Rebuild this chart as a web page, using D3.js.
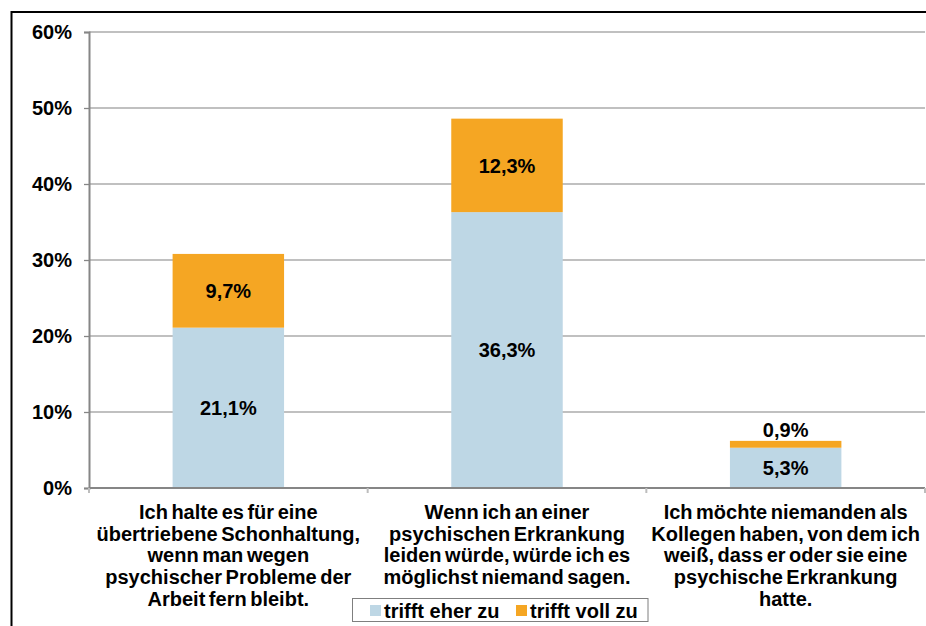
<!DOCTYPE html>
<html>
<head>
<meta charset="utf-8">
<script src="https://cdn.jsdelivr.net/npm/d3@7"></script>
<style>
  html, body { margin: 0; padding: 0; background: #fff; }
  svg { display: block; font-family: "Liberation Sans", Arial, sans-serif; font-weight: bold; }
</style>
</head>
<body>
<svg id="chart" width="926" height="626"></svg>
<script>
// Survey statements (wrapped as they appear below the axis)
const categories = ["s1", "s2", "s3"];
const categoryLines = [
  ["Ich halte es für eine", "übertriebene Schonhaltung,", "wenn man wegen", "psychischer Probleme der", "Arbeit fern bleibt."],
  ["Wenn ich an einer", "psychischen Erkrankung", "leiden würde, würde ich es", "möglichst niemand sagen."],
  ["Ich möchte niemanden als", "Kollegen haben, von dem ich", "weiß, dass er oder sie eine", "psychische Erkrankung", "hatte."]
];
const seriesNames = ["trifft eher zu", "trifft voll zu"];
const eherZu = [21.1, 36.3, 5.3];
const vollZu = [9.7, 12.3, 0.9];
const yTicks = [0, 10, 20, 30, 40, 50, 60];
const colors = ["#BED7E5", "#F5A623"];

const fmt = v => d3.format(".1f")(v).replace(".", ",") + "%";

const svg = d3.select("#chart");

// outer frame
svg.append("rect")
  .attr("x", 11.5).attr("y", 12).attr("width", 930).attr("height", 640)
  .attr("fill", "none").attr("stroke", "#000").attr("stroke-width", 2);

const plotLeft = 89, plotRight = 925, plotTop = 32, plotBottom = 488;

const x = d3.scaleBand().domain(categories).range([plotLeft, plotRight])
  .paddingInner(0.6).paddingOuter(0.3);
const y = d3.scaleLinear().domain([0, 60]).range([plotBottom, plotTop]);

// horizontal gridlines
svg.append("g").selectAll("line").data(yTicks.filter(t => t > 0)).join("line")
  .attr("x1", plotLeft).attr("x2", plotRight)
  .attr("y1", d => y(d)).attr("y2", d => y(d))
  .attr("stroke", "#ABABAB").attr("stroke-width", 1.3);

// y axis
const yAxis = svg.append("g").attr("transform", `translate(${plotLeft},0)`)
  .call(d3.axisLeft(y).tickValues(yTicks).tickSize(5).tickPadding(12).tickFormat(d => d + "%"));
yAxis.select(".domain").attr("stroke", "#868686").attr("stroke-width", 2);
yAxis.selectAll(".tick line").attr("stroke", "#868686").attr("stroke-width", 1.3);
yAxis.selectAll(".tick text")
  .attr("fill", "#000").attr("font-size", 20).attr("font-weight", "bold")
  .attr("font-family", "Liberation Sans, Arial, sans-serif");

// stacked data
const rows = categories.map((c, i) => ({ cat: c, eher: eherZu[i], voll: vollZu[i] }));
const stack = d3.stack().keys(["eher", "voll"])(rows);

const gBars = svg.append("g");
stack.forEach((layer, li) => {
  gBars.append("g").selectAll("rect").data(layer).join("rect")
    .attr("x", d => x(d.data.cat))
    .attr("width", x.bandwidth())
    .attr("y", d => y(d[1]))
    .attr("height", d => y(d[0]) - y(d[1]))
    .attr("fill", colors[li]);
});

// x axis baseline and category separators
const step = x.step();
svg.append("line")
  .attr("x1", plotLeft).attr("x2", plotRight).attr("y1", y(0)).attr("y2", y(0))
  .attr("stroke", "#868686").attr("stroke-width", 2);
const bounds = [plotLeft].concat(categories.map(c => x(c) + x.bandwidth() / 2 + step / 2));
svg.append("g").selectAll("line").data(bounds).join("line")
  .attr("x1", d => d).attr("x2", d => d)
  .attr("y1", y(0)).attr("y2", y(0) + 5)
  .attr("stroke", "#BDBDBD").attr("stroke-width", 2);

// value labels
const gLab = svg.append("g").attr("font-size", 20).attr("text-anchor", "middle").attr("fill", "#000");
stack.forEach((layer, li) => {
  layer.forEach(d => {
    const segH = y(d[0]) - y(d[1]);
    const cx = x(d.data.cat) + x.bandwidth() / 2;
    const cy = segH < 24 ? y(d[1]) - 11 : (y(d[0]) + y(d[1])) / 2;
    gLab.append("text")
      .attr("x", cx).attr("y", cy).attr("dy", "0.36em")
      .text(fmt(d[1] - d[0]));
  });
});

// category labels
const gCat = svg.append("g").attr("font-size", 20).attr("text-anchor", "middle")
  .attr("fill", "#000").attr("word-spacing", -2);
categories.forEach((c, i) => {
  const t = gCat.append("text").attr("x", x(c) + x.bandwidth() / 2).attr("y", 519);
  categoryLines[i].forEach((ln, j) => {
    t.append("tspan").attr("x", x(c) + x.bandwidth() / 2).attr("dy", j === 0 ? 0 : 21.7).text(ln);
  });
});

// legend
const lg = svg.append("g");
lg.append("rect").attr("x", 352.5).attr("y", 598.5).attr("width", 295.5).attr("height", 23)
  .attr("fill", "#fff").attr("stroke", "#7F7F7F").attr("stroke-width", 1);
const legendX = [370, 516];
seriesNames.forEach((n, i) => {
  lg.append("rect").attr("x", legendX[i]).attr("y", 605).attr("width", 11).attr("height", 11).attr("fill", colors[i]);
  lg.append("text").attr("x", legendX[i] + 14).attr("y", 617.5).attr("font-size", 20).attr("fill", "#000").text(n);
});
</script>
</body>
</html>
